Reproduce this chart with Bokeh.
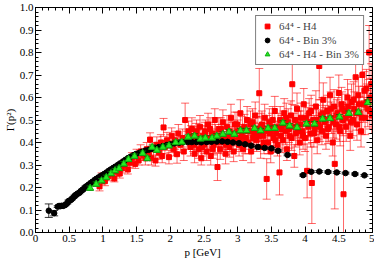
from bokeh.plotting import figure
from bokeh.models import (ColumnDataSource, Range1d, LinearAxis, SingleIntervalTicker,
                          CustomJSTickFormatter, Legend, LegendItem)
from bokeh.embed import file_html
from bokeh.resources import INLINE

# ---- data: 64^4 - Bin 3% (black) ----
blk_p = [0.197, 0.277, 0.33, 0.35, 0.37, 0.39, 0.41, 0.44, 0.47, 0.49, 0.51, 0.53, 0.56, 0.58,
         0.60, 0.62, 0.65, 0.67, 0.69, 0.72, 0.74, 0.76, 0.79, 0.81, 0.84, 0.87, 0.90, 0.93,
         0.96, 0.99, 1.02, 1.05, 1.08, 1.11, 1.15, 1.18, 1.22, 1.25, 1.29, 1.33, 1.37, 1.41,
         1.45, 1.49, 1.54, 1.58, 1.63, 1.68, 1.73, 1.78, 1.83, 1.89, 1.95, 2.00, 2.06, 2.13,
         2.19, 2.26, 2.32, 2.39, 2.46, 2.54, 2.61, 2.69, 2.77, 2.85, 2.93, 3.02, 3.11, 3.20,
         3.30, 3.40, 3.50, 3.60, 3.74, 3.97, 4.09, 4.21, 4.34, 4.47, 4.60, 4.74, 4.88]
blk_g = [0.097, 0.086, 0.115, 0.118, 0.117, 0.119, 0.118, 0.122, 0.130, 0.140, 0.142, 0.146, 0.155, 0.162,
         0.167, 0.172, 0.176, 0.183, 0.188, 0.195, 0.202, 0.206, 0.212, 0.218, 0.224, 0.231, 0.238, 0.243,
         0.250, 0.254, 0.260, 0.266, 0.272, 0.279, 0.286, 0.292, 0.299, 0.306, 0.313, 0.322, 0.330, 0.337,
         0.343, 0.349, 0.354, 0.359, 0.364, 0.368, 0.372, 0.376, 0.380, 0.384, 0.389, 0.392, 0.396, 0.399,
         0.401, 0.402, 0.402, 0.402, 0.401, 0.402, 0.403, 0.404, 0.405, 0.403, 0.400, 0.397, 0.392, 0.386,
         0.380, 0.376, 0.374, 0.363, 0.345, 0.255, 0.270, 0.271, 0.269, 0.267, 0.264, 0.260, 0.254]
blk_e = [0.030, 0.012] + [0.004] * 81

# ---- data: 64^4 - H4 - Bin 3% (green) ----
grn_p = [0.81, 0.90, 0.98, 1.05, 1.12, 1.18, 1.24, 1.31, 1.38, 1.47, 1.59, 1.66, 1.73, 1.80,
         1.89, 1.98, 2.08, 2.17, 2.265, 2.36, 2.45, 2.52, 2.62, 2.69, 2.78, 2.87, 2.95, 3.04,
         3.13, 3.25, 3.34, 3.45, 3.55, 3.67, 3.77, 3.88, 4.02, 4.14, 4.26, 4.37, 4.51, 4.65,
         4.79, 4.93]
grn_g = [0.197, 0.215, 0.230, 0.245, 0.262, 0.275, 0.285, 0.305, 0.325, 0.339, 0.352, 0.329, 0.379, 0.366,
         0.379, 0.386, 0.400, 0.402, 0.424, 0.429, 0.416, 0.420, 0.420, 0.429, 0.437, 0.447, 0.437, 0.453,
         0.453, 0.463, 0.453, 0.463, 0.464, 0.487, 0.474, 0.467, 0.483, 0.483, 0.505, 0.507, 0.514, 0.530,
         0.534, 0.578]
grn_e = [0.010] * 44

# ---- data: 64^4 - H4 (red) ----
red_p = [0.95, 0.98, 1.03, 1.08, 1.12, 1.17, 1.20, 1.25, 1.28, 1.32, 1.37, 1.40, 1.43, 1.48, 1.50,
         1.53, 1.56, 1.60, 1.63, 1.65, 1.68, 1.70, 1.72, 1.75, 1.78, 1.80, 1.83, 1.86, 1.88, 1.90,
         1.92, 1.95, 1.98, 2.00, 2.02, 2.05, 2.07, 2.10, 2.12, 2.15, 2.18, 2.20, 2.22, 2.25, 2.27,
         2.30, 2.32, 2.34, 2.36, 2.38, 2.40, 2.42, 2.44, 2.46, 2.48, 2.50, 2.52, 2.54, 2.56, 2.58,
         2.60, 2.62, 2.64, 2.66, 2.68, 2.70, 2.72, 2.74, 2.76, 2.78, 2.80, 2.82, 2.84, 2.86, 2.88,
         2.90, 2.92, 2.94, 2.96, 2.98, 3.00, 3.02, 3.04, 3.06, 3.08, 3.10, 3.12, 3.14, 3.16, 3.18,
         3.20, 3.22, 3.24, 3.26, 3.28, 3.30, 3.32, 3.34, 3.36, 3.38, 3.40, 3.42, 3.43, 3.45, 3.47,
         3.49, 3.51, 3.53, 3.55, 3.57, 3.59, 3.62, 3.63, 3.65, 3.67, 3.69, 3.71, 3.73, 3.75, 3.77,
         3.79, 3.81, 3.83, 3.84, 3.86, 3.88, 3.90, 3.92, 3.94, 3.96, 3.98, 4.00, 4.03, 4.04, 4.06,
         4.08, 4.10, 4.12, 4.14, 4.16, 4.18, 4.20, 4.21, 4.23, 4.25, 4.27, 4.29, 4.31, 4.33, 4.35,
         4.37, 4.39, 4.41, 4.43, 4.44, 4.46, 4.48, 4.50, 4.52, 4.54, 4.56, 4.57, 4.59, 4.61, 4.63,
         4.65, 4.67, 4.69, 4.71, 4.73, 4.75, 4.77, 4.79, 4.81, 4.83, 4.85, 4.87, 4.89, 4.91, 4.93,
         4.95, 4.97, 4.99,
         2.31, 2.35, 2.39, 2.43, 2.47, 2.51, 2.55, 2.59, 2.63, 2.67, 2.71, 2.75, 2.79, 2.83, 2.87,
         2.91, 2.95, 2.99, 3.03, 3.07, 3.11, 3.15, 3.19, 3.23, 3.27, 3.31, 3.35, 3.39, 3.44, 3.48,
         3.52, 3.56, 3.60, 3.64, 3.68, 3.72, 3.76, 3.80, 3.85, 3.89, 3.93, 3.97, 4.01, 4.05, 4.09,
         4.13, 4.17, 4.22, 4.26, 4.30, 4.34, 4.38, 4.42, 4.47, 4.51, 4.55, 4.60, 4.64, 4.68, 4.72,
         4.76, 4.80, 4.84, 4.88, 4.92, 4.96, 4.98]
red_g = [0.205, 0.240, 0.228, 0.250, 0.262, 0.240, 0.270, 0.262, 0.285, 0.300, 0.280, 0.310, 0.330, 0.305, 0.340,
         0.320, 0.360, 0.345, 0.330, 0.370, 0.350, 0.413, 0.330, 0.370, 0.320, 0.390, 0.355, 0.400, 0.340, 0.467,
         0.380, 0.410, 0.335, 0.395, 0.430, 0.370, 0.410, 0.348, 0.440, 0.390, 0.420, 0.360, 0.500, 0.410, 0.450,
         0.380, 0.460, 0.400, 0.350, 0.440, 0.420, 0.370, 0.470, 0.330, 0.430, 0.390, 0.450, 0.360, 0.480, 0.410,
         0.340, 0.440, 0.390, 0.500, 0.420, 0.291, 0.460, 0.370, 0.430, 0.490, 0.400, 0.350, 0.470, 0.420, 0.380,
         0.510, 0.440, 0.360, 0.480, 0.410, 0.450, 0.390, 0.530, 0.430, 0.370, 0.470, 0.420, 0.500, 0.400, 0.450,
         0.360, 0.490, 0.440, 0.520, 0.410, 0.460, 0.619, 0.380, 0.480, 0.430, 0.510, 0.450, 0.238, 0.400, 0.490,
         0.360, 0.470, 0.420, 0.540, 0.440, 0.390, 0.267, 0.500, 0.460, 0.410, 0.530, 0.450, 0.370, 0.490, 0.430,
         0.520, 0.659, 0.470, 0.340, 0.440, 0.550, 0.480, 0.400, 0.510, 0.450, 0.570, 0.420, 0.274, 0.490, 0.530,
         0.440, 0.220, 0.500, 0.460, 0.560, 0.410, 0.480, 0.740, 0.520, 0.450, 0.590, 0.490, 0.430, 0.540, 0.470,
         0.610, 0.510, 0.400, 0.560, 0.305, 0.480, 0.530, 0.620, 0.450, 0.570, 0.500, 0.170, 0.540, 0.470, 0.600,
         0.520, 0.430, 0.580, 0.500, 0.550, 0.690, 0.480, 0.610, 0.530, 0.450, 0.700, 0.570, 0.510, 0.640, 0.550,
         0.800, 0.600, 0.520,
         0.430, 0.390, 0.450, 0.410, 0.380, 0.440, 0.420, 0.460, 0.370, 0.430, 0.400, 0.460, 0.420, 0.390, 0.450,
         0.410, 0.440, 0.480, 0.420, 0.460, 0.400, 0.450, 0.480, 0.420, 0.460, 0.430, 0.470, 0.400, 0.460, 0.440,
         0.500, 0.410, 0.470, 0.430, 0.480, 0.510, 0.460, 0.420, 0.500, 0.450, 0.480, 0.430, 0.510, 0.470, 0.540,
         0.440, 0.500, 0.470, 0.530, 0.500, 0.460, 0.550, 0.490, 0.520, 0.470, 0.550, 0.510, 0.560, 0.490, 0.590,
         0.530, 0.570, 0.510, 0.630, 0.580, 0.540, 0.660]
red_e = [0.020, 0.025, 0.020, 0.020, 0.020, 0.015, 0.020, 0.020, 0.020, 0.025, 0.020, 0.020, 0.025, 0.020, 0.030,
         0.020, 0.030, 0.025, 0.030, 0.030, 0.025, 0.030, 0.030, 0.030, 0.025, 0.035, 0.030, 0.035, 0.030, 0.040,
         0.030, 0.035, 0.030, 0.040, 0.035, 0.030, 0.040, 0.040, 0.040, 0.035, 0.040, 0.040, 0.075, 0.040, 0.045,
         0.040, 0.050, 0.040, 0.040, 0.045, 0.050, 0.040, 0.050, 0.030, 0.045, 0.040, 0.050, 0.040, 0.050, 0.045,
         0.040, 0.050, 0.045, 0.050, 0.040, 0.060, 0.050, 0.045, 0.050, 0.055, 0.050, 0.045, 0.050, 0.050, 0.045,
         0.060, 0.050, 0.045, 0.055, 0.050, 0.050, 0.050, 0.060, 0.050, 0.050, 0.055, 0.050, 0.060, 0.050, 0.055,
         0.050, 0.060, 0.050, 0.060, 0.050, 0.055, 0.110, 0.050, 0.060, 0.055, 0.060, 0.055, 0.090, 0.050, 0.060,
         0.050, 0.060, 0.055, 0.065, 0.055, 0.050, 0.100, 0.060, 0.060, 0.055, 0.065, 0.060, 0.050, 0.060, 0.055,
         0.065, 0.090, 0.060, 0.050, 0.060, 0.070, 0.060, 0.055, 0.065, 0.060, 0.070, 0.060, 0.120, 0.065, 0.065,
         0.060, 0.180, 0.065, 0.060, 0.070, 0.060, 0.065, 0.150, 0.070, 0.060, 0.075, 0.065, 0.060, 0.070, 0.065,
         0.080, 0.070, 0.060, 0.075, 0.200, 0.065, 0.070, 0.080, 0.065, 0.075, 0.070, 0.400, 0.075, 0.065, 0.080,
         0.070, 0.065, 0.080, 0.070, 0.075, 0.090, 0.070, 0.080, 0.075, 0.070, 0.100, 0.080, 0.075, 0.085, 0.080,
         0.120, 0.085, 0.080,
         0.045, 0.040, 0.050, 0.045, 0.040, 0.050, 0.050, 0.050, 0.040, 0.050, 0.045, 0.050, 0.050, 0.045, 0.050,
         0.050, 0.055, 0.055, 0.050, 0.055, 0.050, 0.055, 0.060, 0.050, 0.055, 0.055, 0.060, 0.050, 0.060, 0.055,
         0.060, 0.055, 0.060, 0.055, 0.060, 0.065, 0.060, 0.055, 0.065, 0.060, 0.060, 0.060, 0.065, 0.060, 0.070,
         0.060, 0.065, 0.065, 0.070, 0.065, 0.065, 0.075, 0.070, 0.070, 0.065, 0.075, 0.070, 0.075, 0.070, 0.080,
         0.075, 0.080, 0.075, 0.085, 0.080, 0.080, 0.090]

x_label = "p  [GeV]"
y_label = "Γ(p²)"
labels = ["64⁴ - H4", "64⁴ - Bin 3%", "64⁴ - H4 - Bin 3%"]

FONT = "Liberation Serif"


def src(px, gy, ey):
    return ColumnDataSource(dict(p=px, g=gy,
                                 lo=[a - b for a, b in zip(gy, ey)],
                                 hi=[a + b for a, b in zip(gy, ey)]))


p = figure(width=374, height=260, output_backend="svg", toolbar_location=None,
           x_range=Range1d(0, 5), y_range=Range1d(0, 1),
           x_axis_location=None, y_axis_location=None,
           min_border_left=2, min_border_right=2, min_border_top=7, min_border_bottom=2)
p.background_fill_color = "white"
p.border_fill_color = "white"
p.outline_line_color = "black"
p.outline_line_width = 1
p.grid.visible = False


def errbars(s, color, alpha, cap):
    p.segment(x0="p", y0="lo", x1="p", y1="hi", source=s, line_color=color, line_alpha=alpha, line_width=1)
    p.scatter(x="p", y="lo", source=s, marker="dash", size=cap, line_color=color, line_alpha=alpha, line_width=1)
    p.scatter(x="p", y="hi", source=s, marker="dash", size=cap, line_color=color, line_alpha=alpha, line_width=1)


rs = src(red_p, red_g, red_e)
bs = src(blk_p, blk_g, blk_e)
gs = src(grn_p, grn_g, grn_e)

errbars(rs, "#ff0000", 0.6, 8)
r_red = p.scatter(x="p", y="g", source=rs, marker="square", size=5, fill_color="#ff0000", line_color="#ff0000")
errbars(bs, "#000000", 0.8, 8)
r_blk = p.scatter(x="p", y="g", source=bs, marker="circle", size=5.5, fill_color="black", line_color="black")
errbars(gs, "#007700", 0.9, 7)
r_grn = p.scatter(x="p", y="g", source=gs, marker="triangle", size=7, fill_color="#22ee22", line_color="#11aa11")

num_fmt = CustomJSTickFormatter(code="return (Math.abs(tick - Math.round(tick)) < 1e-9) ? tick.toFixed(0) : tick.toFixed(1);")
blank_fmt = CustomJSTickFormatter(code="return '';")

bottom = LinearAxis(ticker=SingleIntervalTicker(interval=0.5, num_minor_ticks=5),
                    formatter=num_fmt, axis_label=x_label)
left = LinearAxis(ticker=SingleIntervalTicker(interval=0.1, num_minor_ticks=5),
                  formatter=CustomJSTickFormatter(code="return tick.toFixed(1);"), axis_label=y_label)
top = LinearAxis(ticker=SingleIntervalTicker(interval=0.5, num_minor_ticks=5), formatter=blank_fmt)
right = LinearAxis(ticker=SingleIntervalTicker(interval=0.1, num_minor_ticks=5), formatter=blank_fmt)
p.add_layout(bottom, "below")
p.add_layout(left, "left")
p.add_layout(top, "above")
p.add_layout(right, "right")

for ax in [bottom, left, top, right]:
    ax.major_tick_in = 6
    ax.major_tick_out = 0
    ax.minor_tick_in = 3
    ax.minor_tick_out = 0
    ax.axis_line_color = "black"
    ax.major_tick_line_color = "black"
    ax.minor_tick_line_color = "black"
    ax.major_label_text_font = FONT
    ax.major_label_text_font_size = "11px"
    ax.major_label_text_color = "black"
    ax.axis_label_text_font = FONT
    ax.axis_label_text_font_size = "11px"
    ax.axis_label_text_font_style = "normal"
    ax.axis_label_text_color = "black"
    ax.major_label_standoff = 2
    ax.axis_label_standoff = 1

for ax in [top, right]:
    ax.major_label_standoff = 0

legend = Legend(items=[LegendItem(label=labels[0], renderers=[r_red]),
                       LegendItem(label=labels[1], renderers=[r_blk]),
                       LegendItem(label=labels[2], renderers=[r_grn])],
                location="top_right")
legend.label_text_font = FONT
legend.label_text_font_size = "11px"
legend.label_height = 12
legend.glyph_height = 12
legend.glyph_width = 14
legend.spacing = 2
legend.padding = 4
legend.margin = 8
legend.border_line_color = "black"
legend.border_line_width = 1
legend.background_fill_alpha = 1
p.add_layout(legend)

open("out.html", "w").write(file_html(p, INLINE))
